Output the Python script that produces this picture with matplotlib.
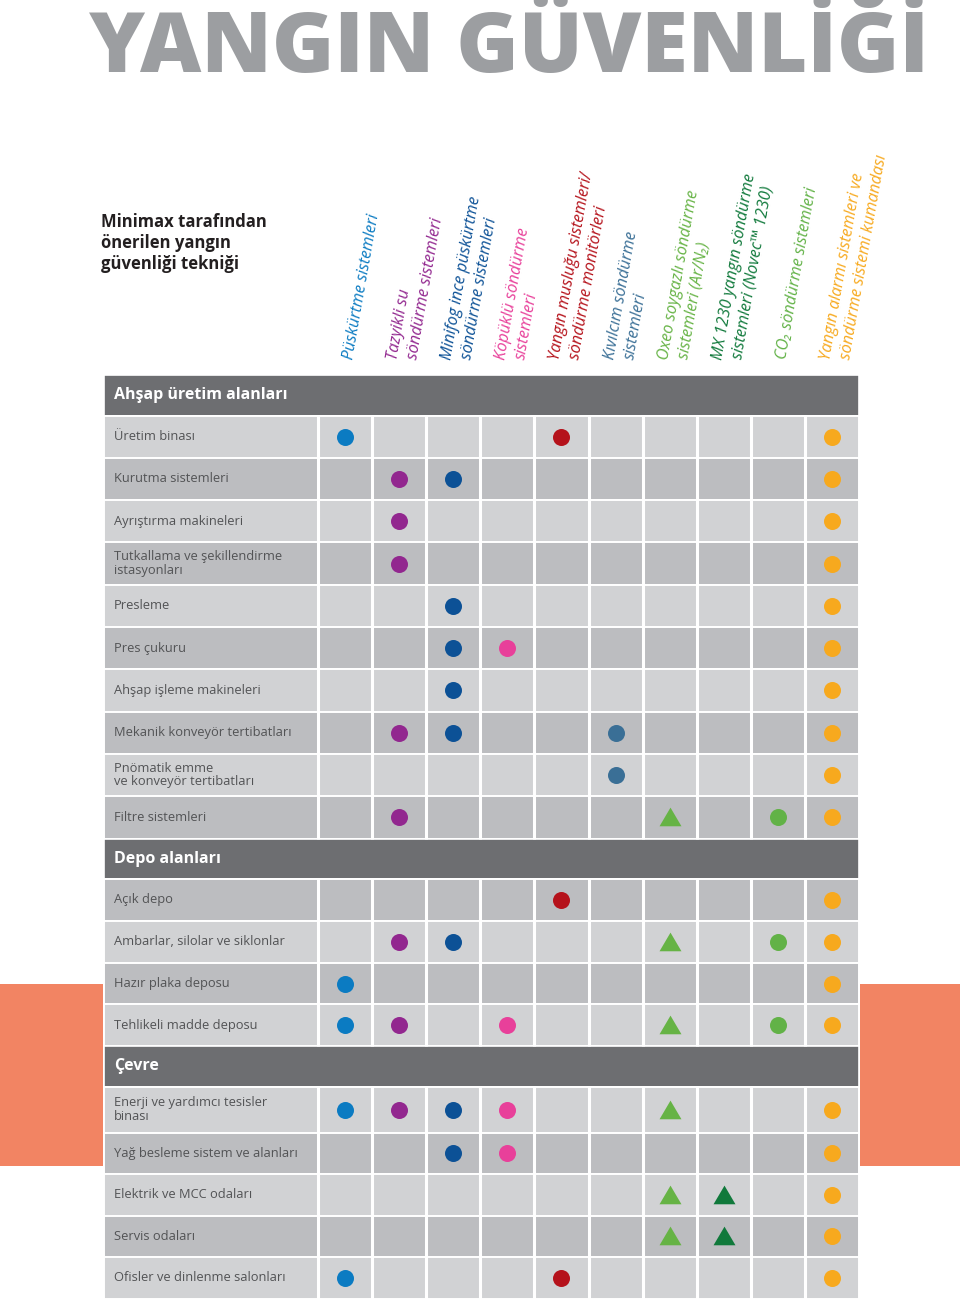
import matplotlib
matplotlib.use("Agg")
import matplotlib.pyplot as plt
from matplotlib.patches import Rectangle
from matplotlib.path import Path
from matplotlib.transforms import offset_copy
import numpy as np

plt.rcParams['font.family'] = ['Open Sans', 'DejaVu Sans']

# ---------------- data ----------------
TITLE = "YANGIN GÜVENLİĞİ"
SUBTITLE = "Minimax tarafından\nönerilen yangın\ngüvenliği tekniği"

column_labels = [
    ["Püskürtme sistemleri"],
    ["Tazyikli su", "söndürme sistemleri"],
    ["Minifog ince püskürtme", "söndürme sistemleri"],
    ["Köpüklü söndürme", "sistemleri"],
    ["Yangın musluğu sistemleri/", "söndürme monitörleri"],
    ["Kıvılcım söndürme", "sistemleri"],
    ["Oxeo soygazlı söndürme", "sistemleri (Ar/N₂)"],
    ["MX 1230 yangın söndürme", "sistemleri (Novec™ 1230)"],
    ["CO₂ söndürme sistemleri"],
    ["Yangın alarmı sistemleri ve", "söndürme sistemi kumandası"],
]
column_colors = ["#0b7bc2", "#92278f", "#0c5196", "#e8409a", "#b5121b",
                 "#3a6f96", "#66b345", "#10793b", "#62b247", "#f7a91e"]
column_markers = ["o", "o", "o", "o", "o", "o", "^", "^", "o", "o"]

section_titles = ["Ahşap üretim alanları", "Depo alanları", "Çevre"]

wood_rows = ["Üretim binası", "Kurutma sistemleri", "Ayrıştırma makineleri",
             "Tutkallama ve şekillendirme\nistasyonları", "Presleme", "Pres çukuru",
             "Ahşap işleme makineleri", "Mekanik konveyör tertibatları",
             "Pnömatik emme\nve konveyör tertibatları", "Filtre sistemleri"]
wood_marks = [
    [1, 0, 0, 0, 1, 0, 0, 0, 0, 1],
    [0, 1, 1, 0, 0, 0, 0, 0, 0, 1],
    [0, 1, 0, 0, 0, 0, 0, 0, 0, 1],
    [0, 1, 0, 0, 0, 0, 0, 0, 0, 1],
    [0, 0, 1, 0, 0, 0, 0, 0, 0, 1],
    [0, 0, 1, 1, 0, 0, 0, 0, 0, 1],
    [0, 0, 1, 0, 0, 0, 0, 0, 0, 1],
    [0, 1, 1, 0, 0, 1, 0, 0, 0, 1],
    [0, 0, 0, 0, 0, 1, 0, 0, 0, 1],
    [0, 1, 0, 0, 0, 0, 1, 0, 1, 1],
]

depot_rows = ["Açık depo", "Ambarlar, silolar ve siklonlar",
              "Hazır plaka deposu", "Tehlikeli madde deposu"]
depot_marks = [
    [0, 0, 0, 0, 1, 0, 0, 0, 0, 1],
    [0, 1, 1, 0, 0, 0, 1, 0, 1, 1],
    [1, 0, 0, 0, 0, 0, 0, 0, 0, 1],
    [1, 1, 0, 1, 0, 0, 1, 0, 1, 1],
]

env_rows = ["Enerji ve yardımcı tesisler\nbinası", "Yağ besleme sistem ve alanları",
            "Elektrik ve MCC odaları", "Servis odaları", "Ofisler ve dinlenme salonları"]
env_marks = [
    [1, 1, 1, 1, 0, 0, 1, 0, 0, 1],
    [0, 0, 1, 1, 0, 0, 0, 0, 0, 1],
    [0, 0, 0, 0, 0, 0, 1, 1, 0, 1],
    [0, 0, 0, 0, 0, 0, 1, 1, 0, 1],
    [1, 0, 0, 0, 1, 0, 0, 0, 0, 1],
]

# ---------------- layout / style ----------------
W, H = 960, 1301
HEADER_C = "#6d6e71"
LIGHT_C = "#d1d2d4"
DARK_C = "#bcbdc0"
SALMON = "#f28463"
HEADER_H = 40.5
sections = [
    (section_titles[0], wood_rows, wood_marks, [42.3] * 10, 0),
    (section_titles[1], depot_rows, depot_marks, [41.8] * 4, 1),
    (section_titles[2], env_rows, env_marks, [46, 41.5, 41.5, 41.5, 41.5], 0),
]
total_h = sum(HEADER_H + sum(s[3]) for s in sections)

fig = plt.figure(figsize=(W / 100, H / 100), dpi=100)
fig.patch.set_facecolor("white")

# salmon side panels
for x0, x1 in [(0, 103), (860, 960)]:
    fig.add_artist(Rectangle((x0 / W, 1 - 1166 / H), (x1 - x0) / W, (1166 - 984) / H,
                             transform=fig.transFigure, facecolor=SALMON,
                             edgecolor="none", zorder=0))

TAB_L, TAB_R, TAB_T = 104, 859, 375
TAB_B = TAB_T + total_h
ax = fig.add_axes([TAB_L / W, 1 - TAB_B / H, (TAB_R - TAB_L) / W, (TAB_B - TAB_T) / H])
ax.set_axis_off()
ncol = len(column_labels)
label_w = (318 - TAB_L) / ((TAB_R - 318) / ncol)
ax.set_xlim(-label_w, ncol)
ax.set_ylim(total_h, 0)

tri = Path([(-1, -0.8), (1, -0.8), (0, 0.9), (-1, -0.8)],
           [Path.MOVETO, Path.LINETO, Path.LINETO, Path.CLOSEPOLY])

label_tr = offset_copy(ax.transData, fig=fig, x=10, y=0, units='dots')
y = 0.0
for title, labels, marks, heights, parity in sections:
    ax.barh(y + HEADER_H / 2, ncol + label_w, left=-label_w, height=HEADER_H,
            color=HEADER_C, edgecolor="white", linewidth=1.2, zorder=1)
    ax.text(-label_w, y + HEADER_H / 2, title, transform=label_tr, ha="left", va="center",
            fontsize=11.5, fontweight="bold", color="white", zorder=4)
    y += HEADER_H
    sec_top = y
    for i, (lab, mk, h) in enumerate(zip(labels, marks, heights)):
        c = LIGHT_C if (i + parity) % 2 == 0 else DARK_C
        yc = y + h / 2
        ax.barh(yc, ncol + label_w, left=-label_w, height=h, color=c,
                edgecolor="white", linewidth=1.4, zorder=1)
        ax.text(-label_w, yc, lab, transform=label_tr, ha="left", va="center",
                fontsize=9.3, color="#525355", linespacing=1.05, zorder=4)
        for j, v in enumerate(mk):
            if v:
                if column_markers[j] == "^":
                    ax.scatter([j + 0.5], [yc], marker=tri, s=250, color=column_colors[j],
                               linewidths=0, zorder=3)
                else:
                    ax.scatter([j + 0.5], [yc], marker="o", s=150, color=column_colors[j],
                               linewidths=0, zorder=3)
        y += h
    ax.vlines(np.arange(0, ncol), sec_top, y, colors="white", linewidth=2.2, zorder=2)

# rotated column headers
base = ax.get_xaxis_transform()
for j, lines in enumerate(column_labels):
    n = len(lines)
    for k, line in enumerate(lines):
        dx = (k - (n - 1) / 2) * 20
        tr = offset_copy(base, fig=fig, x=dx + 8, y=15, units='dots')
        ax.text(j + 0.5, 1.0, line, transform=tr, rotation=80, rotation_mode="anchor",
                ha="left", va="baseline", fontsize=11.5, fontstyle="italic",
                color=column_colors[j], clip_on=False)

# subtitle
fig.text(101 / W, 1 - 213 / H, SUBTITLE, ha="left", va="top", fontsize=12,
         fontweight="bold", color="#231f20", linespacing=1.22)

# big title, fitted to width
t = fig.text(89 / W, 1 - 72 / H, TITLE, ha="left", va="baseline", fontsize=60,
             fontweight="heavy", color="#9c9ea1")
fig.canvas.draw()
bb = t.get_window_extent()
t.set_fontsize(60 * 840 / bb.width)

fig.savefig("out.png", dpi=100, facecolor="white")
